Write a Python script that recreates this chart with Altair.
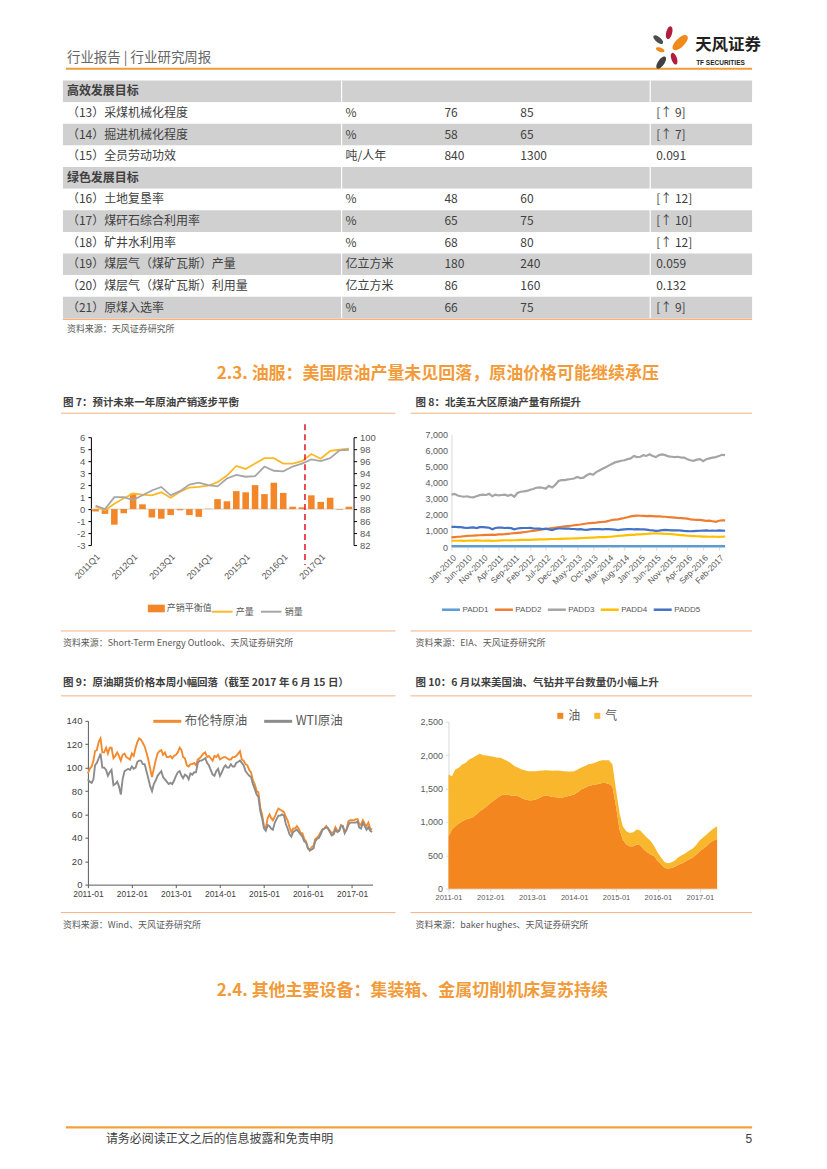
import altair as alt
import pandas as pd

FONT = "Noto Sans CJK SC"
NUM_FONT = "Liberation Sans"
ORANGE_LINE = "#F4B183"
GRAY_TXT = "#595959"
DARK_TXT = "#404040"
HEAD_ORANGE = "#F29B3A"

# ---------------- texts ----------------
HEADER_TEXT = "行业报告 | 行业研究周报"
LOGO_CN = "天风证券"
LOGO_EN = "TF SECURITIES"
TABLE_SOURCE = "资料来源：天风证券研究所"
HEADING_23 = "2.3. 油服：美国原油产量未见回落，原油价格可能继续承压"
TITLE_7 = "图 7：预计未来一年原油产销逐步平衡"
TITLE_8 = "图 8：北美五大区原油产量有所提升"
SOURCE_7 = "资料来源：Short-Term Energy Outlook、天风证券研究所"
SOURCE_8 = "资料来源：EIA、天风证券研究所"
TITLE_9 = "图 9：原油期货价格本周小幅回落（截至 2017 年 6 月 15 日）"
TITLE_10 = "图 10：6 月以来美国油、气钻井平台数量仍小幅上升"
SOURCE_9 = "资料来源：Wind、天风证券研究所"
SOURCE_10 = "资料来源：baker hughes、天风证券研究所"
HEADING_24 = "2.4. 其他主要设备：集装箱、金属切削机床复苏持续"
FOOTER_TEXT = "请务必阅读正文之后的信息披露和免责申明"
PAGE_NO = "5"

# ---------------- table ----------------
table_item = ["高效发展目标", "（13）采煤机械化程度", "（14）掘进机械化程度", "（15）全员劳动功效",
              "绿色发展目标", "（16）土地复垦率", "（17）煤矸石综合利用率", "（18）矿井水利用率",
              "（19）煤层气（煤矿瓦斯）产量", "（20）煤层气（煤矿瓦斯）利用量", "（21）原煤入选率"]
table_unit = ["", "%", "%", "吨/人年", "", "%", "%", "%", "亿立方米", "亿立方米", "%"]
table_2015 = ["", "76", "58", "840", "", "48", "65", "68", "180", "86", "66"]
table_2020 = ["", "85", "65", "1300", "", "60", "75", "80", "240", "160", "75"]
table_change = ["", "[↑ 9]", "[↑ 7]", "0.091", "", "[↑ 12]", "[↑ 10]", "[↑ 12]", "0.059", "0.132", "[↑ 9]"]
table_shaded = [True, False, True, False, True, False, True, False, True, False, True]
table_header = [True, False, False, False, True, False, False, False, False, False, False]

# ---------------- figure 7 ----------------
quarters = ["2011Q1", "2011Q2", "2011Q3", "2011Q4", "2012Q1", "2012Q2", "2012Q3", "2012Q4",
            "2013Q1", "2013Q2", "2013Q3", "2013Q4", "2014Q1", "2014Q2", "2014Q3", "2014Q4",
            "2015Q1", "2015Q2", "2015Q3", "2015Q4", "2016Q1", "2016Q2", "2016Q3", "2016Q4",
            "2017Q1", "2017Q2", "2017Q3", "2017Q4"]
q1_labels = ["2011Q1", "2012Q1", "2013Q1", "2014Q1", "2015Q1", "2016Q1", "2017Q1"]
balance = [-0.2, -0.4, -1.3, -0.35, 1.3, 0.4, -0.7, -0.8, -0.5, -0.1, -0.5, -0.65, 0.03, 0.83,
           0.65, 1.5, 1.4, 2.0, 1.25, 2.2, 1.35, 0.2, 0.15, 1.15, 0.6, 0.95, -0.05, 0.2]
production = [88.4, 87.8, 88.9, 89.8, 90.6, 90.4, 90.3, 90.8, 89.9, 90.9, 91.6, 91.7, 91.9, 92.5,
              93.6, 95.2, 94.7, 95.6, 96.5, 96.5, 95.6, 95.6, 96.0, 97.2, 96.4, 97.7, 97.9, 98.1]
consumption = [88.6, 88.0, 90.0, 90.0, 89.5, 90.3, 91.1, 91.7, 90.3, 91.0, 92.1, 92.4, 92.0, 91.8,
               93.1, 93.7, 93.4, 93.5, 95.1, 94.4, 94.3, 95.1, 95.6, 96.3, 96.0, 96.5, 97.8, 97.9]
forecast_start = "2016Q3"

# ---------------- figure 8 (monthly, Jan-2010 .. Apr-2017) ----------------
padd1 = [55, 55, 56, 55, 54, 55, 56, 55, 54, 55, 56, 55,
         55, 54, 55, 56, 55, 55, 54, 55, 56, 55, 55, 56,
         57, 58, 57, 58, 59, 58, 57, 58, 59, 60, 60, 61,
         60, 61, 62, 61, 62, 63, 62, 61, 62, 63, 62, 63,
         62, 63, 64, 63, 62, 63, 64, 63, 62, 63, 62, 61,
         62, 61, 60, 61, 60, 59, 60, 59, 58, 59, 58, 57,
         56, 55, 56, 55, 54, 55, 54, 53, 54, 53, 54, 53,
         52, 53, 52, 53]
padd2 = [600, 620, 640, 650, 670, 690, 700, 710, 720, 730, 740, 750,
         760, 770, 760, 780, 790, 800, 820, 840, 860, 880, 900, 920,
         950, 980, 1000, 1030, 1060, 1090, 1120, 1150, 1180, 1200, 1230, 1260,
         1280, 1300, 1320, 1350, 1380, 1400, 1430, 1460, 1480, 1500, 1520, 1550,
         1560, 1580, 1620, 1680, 1700, 1720, 1760, 1800, 1850, 1900, 1930, 1950,
         1940, 1930, 1920, 1930, 1920, 1900, 1910, 1890, 1880, 1850, 1840, 1830,
         1800, 1790, 1780, 1760, 1720, 1700, 1690, 1680, 1650, 1620, 1640, 1600,
         1560, 1630, 1650, 1660]
padd3 = [3250, 3300, 3200, 3150, 3120, 3150, 3100, 3080, 3150, 3220, 3250, 3230,
         3300, 3150, 3250, 3200, 3230, 3250, 3180, 3250, 3120, 3350, 3430, 3450,
         3480, 3550, 3600, 3680, 3700, 3680, 3620, 3800, 3700, 3850, 4100, 4150,
         4150, 4200, 4220, 4250, 4350, 4280, 4300, 4450, 4550, 4480, 4650, 4750,
         4850, 4950, 5050, 5150, 5250, 5300, 5350, 5380, 5450, 5500, 5650, 5580,
         5600, 5700, 5650, 5750, 5650, 5580, 5700, 5750, 5700, 5620, 5600, 5580,
         5600, 5550, 5550, 5450, 5380, 5350, 5420, 5450, 5320, 5450, 5500, 5550,
         5580, 5650, 5720, 5700]
padd4 = [380, 390, 390, 400, 380, 390, 400, 400, 410, 400, 390, 400,
         400, 380, 390, 400, 410, 420, 420, 410, 420, 430, 440, 440,
         450, 450, 460, 460, 470, 480, 480, 490, 500, 500, 510, 510,
         520, 520, 530, 540, 540, 550, 560, 570, 580, 590, 600, 610,
         610, 620, 640, 650, 670, 690, 700, 720, 740, 750, 760, 780,
         790, 800, 810, 830, 840, 850, 840, 830, 820, 810, 800, 780,
         760, 740, 720, 700, 690, 680, 670, 660, 650, 650, 640, 650,
         640, 630, 640, 650]
padd5 = [1250, 1260, 1240, 1230, 1200, 1180, 1200, 1220, 1180, 1230, 1240, 1220,
         1200, 1100, 1180, 1200, 1200, 1180, 1190, 1170, 1100, 1150, 1170, 1180,
         1180, 1190, 1160, 1150, 1140, 1120, 1140, 1100, 1050, 1120, 1150, 1150,
         1140, 1150, 1130, 1120, 1100, 1110, 1080, 1070, 1100, 1110, 1120, 1110,
         1100, 1120, 1110, 1100, 1080, 1050, 1080, 1100, 1110, 1120, 1100, 1110,
         1100, 1090, 1080, 1050, 1030, 1000, 1020, 1050, 1060, 1050, 1030, 1040,
         1040, 1020, 1000, 990, 980, 990, 1000, 1010, 1020, 1030, 1010, 1020,
         1010, 1030, 1020, 1010]
padd_names = ["PADD1", "PADD2", "PADD3", "PADD4", "PADD5"]
padd_ticks = [(2010, 1), (2010, 6), (2010, 11), (2011, 4), (2011, 9), (2012, 2), (2012, 7), (2012, 12),
              (2013, 5), (2013, 10), (2014, 3), (2014, 8), (2015, 1), (2015, 6), (2015, 11), (2016, 4),
              (2016, 9), (2017, 2)]

# ---------------- figure 9 (semi-monthly, 2011-01 .. 2017-06) ----------------
brent = [95, 99, 101, 106, 114, 115, 122, 125, 113, 113, 117, 112, 117, 117, 108, 110, 113, 110, 106, 111, 112, 109, 108, 107,
         112, 110, 117, 122, 125, 124, 121, 118, 113, 107, 99, 92, 99, 106, 112, 114, 115, 111, 113, 109, 109, 110, 108, 110,
         111, 113, 117, 115, 109, 108, 102, 101, 103, 103, 104, 102, 107, 108, 110, 112, 113, 109, 110, 108, 106, 110, 109, 111,
         107, 108, 109, 109, 108, 107, 107, 109, 109, 110, 112, 114, 107, 106, 103, 102, 98, 96, 89, 86, 80, 79, 66, 60,
         50, 48, 57, 60, 57, 55, 58, 62, 65, 64, 63, 62, 58, 55, 49, 45, 48, 48, 50, 48, 44, 44, 39, 37,
         31, 30, 32, 33, 39, 40, 42, 45, 47, 48, 50, 48, 46, 44, 45, 49, 46, 46, 51, 50, 45, 47, 54, 55,
         55, 55, 56, 56, 52, 51, 55, 52, 50, 53, 48, 47]
wti = [90, 88, 87, 90, 102, 104, 108, 112, 100, 100, 98, 93, 96, 98, 85, 86, 88, 84, 77, 90, 97, 98, 99, 98,
       101, 99, 100, 105, 106, 106, 103, 103, 97, 91, 84, 80, 86, 89, 93, 95, 97, 92, 90, 88, 86, 87, 86, 89,
       93, 96, 97, 93, 91, 94, 93, 90, 95, 94, 96, 96, 104, 106, 106, 107, 108, 104, 102, 98, 94, 93, 97, 99,
       93, 96, 100, 102, 100, 100, 103, 101, 101, 104, 105, 106, 104, 102, 97, 95, 93, 92, 86, 82, 77, 75, 63, 57,
       48, 46, 51, 50, 48, 47, 53, 56, 59, 59, 60, 59, 52, 48, 43, 41, 45, 46, 47, 45, 43, 41, 37, 36,
       31, 29, 30, 31, 37, 39, 40, 43, 47, 48, 49, 48, 45, 42, 43, 47, 45, 46, 50, 50, 44, 47, 51, 53,
       53, 53, 53, 54, 49, 48, 53, 50, 47, 49, 46, 45]
oil_names = ["布伦特原油", "WTI原油"]
year_ticks = [2011, 2012, 2013, 2014, 2015, 2016, 2017]

# ---------------- figure 10 (monthly, 2011-01 .. 2017-06) ----------------
rigs_oil = [785, 885, 935, 975, 1010, 1035, 1050, 1070, 1110, 1160, 1195, 1235,
            1285, 1320, 1360, 1395, 1410, 1410, 1395, 1395, 1385, 1360, 1335, 1325,
            1325, 1335, 1360, 1385, 1395, 1385, 1375, 1370, 1360, 1370, 1385, 1395,
            1410, 1445, 1485, 1510, 1535, 1550, 1560, 1570, 1585, 1585, 1570, 1535,
            1235, 885, 735, 660, 635, 635, 660, 650, 585, 545, 510, 485,
            410, 360, 310, 300, 310, 330, 360, 380, 410, 440, 465, 510,
            560, 600, 640, 690, 720, 745]
rigs_gas = [925, 800, 850, 835, 850, 850, 885, 890, 885, 860, 805, 760,
            700, 655, 600, 565, 525, 500, 480, 440, 425, 425, 435, 435,
            435, 425, 405, 385, 380, 385, 390, 400, 405, 390, 370, 360,
            350, 340, 325, 325, 325, 320, 325, 340, 340, 340, 355, 325,
            250, 250, 200, 200, 200, 210, 225, 220, 225, 215, 200, 150,
            125, 100, 85, 80, 85, 95, 115, 125, 125, 130, 135, 145,
            165, 170, 170, 170, 180, 190]
rig_names = ["油", "气"]

# ================= helpers =================
dummy = pd.DataFrame({"d": [0]})
PLAIN_NUM = "'' + datum.value"
COMMA_NUM = "format(datum.value, ',')"


def spacer(w, h):
    return alt.Chart(dummy).mark_point(opacity=0, size=1).encode(
        x=alt.value(0), y=alt.value(0)).properties(width=w, height=h)


def txt(s, x, y, size, color=DARK_TXT, weight="normal", align="left", font=FONT):
    return alt.Chart(dummy).mark_text(text=s, align=align, baseline="middle", fontSize=size,
                                      color=color, fontWeight=weight, font=font).encode(
        x=alt.value(x), y=alt.value(y))


def hline(x1, x2, y, color=ORANGE_LINE, width=1.0):
    return alt.Chart(dummy).mark_rule(color=color, strokeWidth=width).encode(
        x=alt.value(x1), x2=alt.value(x2), y=alt.value(y))


PETAL = "M0,-1C0.6,-1 0.6,1 0,1C-0.6,1 -0.6,-1 0,-1Z"


def petal(x, y, size, angle, color):
    return alt.Chart(dummy).mark_point(shape=PETAL, filled=True, opacity=1, size=size,
                                       angle=angle % 360, color=color, strokeWidth=0).encode(
        x=alt.value(x), y=alt.value(y))


def indep(c):
    return c.resolve_scale(x="independent", y="independent", color="independent",
                           stroke="independent")


W = 811

# ================= header =================
header = alt.layer(
    txt(HEADER_TEXT, 58, 49, 13.5, color="#666666"),
    hline(57, 744, 60, color="#F29B3A", width=2),
    petal(661, 24, 170, 15, "#B01E3C"),
    petal(672, 34, 380, 45, "#F08A1C"),
    petal(650, 31, 140, -50, "#4D4D4D"),
    petal(652, 41, 80, -70, "#F08A1C"),
    petal(653, 54, 200, 35, "#404040"),
    petal(666, 50, 150, -20, "#B01E3C"),
    txt(LOGO_CN, 687, 36, 16.5, color="#231F20", weight="bold"),
    txt(LOGO_EN, 688, 54, 6.5, color="#231F20", weight="bold", font=NUM_FONT),
).properties(width=W, height=72)

# ================= table =================
tbl = pd.DataFrame({"row": list(range(len(table_item))), "c1": table_item, "c2": table_unit,
                    "c3": table_2015, "c4": table_2020, "c5": table_change,
                    "shade": table_shaded, "head": table_header})
TW, TH = 690, 238
ytab = alt.Y("row:O", axis=None, scale=alt.Scale(domain=list(range(len(table_item))),
                                                 paddingInner=0, paddingOuter=0))
tbase = alt.Chart(tbl)
bands = tbase.mark_rect().encode(
    y=ytab, x=alt.value(0), x2=alt.value(TW),
    color=alt.condition("datum.shade", alt.value("#D0D0D0"), alt.value("#FFFFFF")))
seps = [alt.Chart(dummy).mark_rule(color="#FFFFFF", strokeWidth=1.2).encode(
    x=alt.value(xx), y=alt.value(0), y2=alt.value(TH)) for xx in (279, 588)]
head_txt = tbase.transform_filter("datum.head").mark_text(
    align="left", baseline="middle", fontSize=12, fontWeight="bold", color=DARK_TXT, font=FONT).encode(
    y=ytab, x=alt.value(4), text="c1:N")
body_layers = []
for col, xx in (("c1", 4), ("c2", 283), ("c3", 382), ("c4", 458), ("c5", 594)):
    body_layers.append(tbase.transform_filter("!datum.head").mark_text(
        align="left", baseline="middle", fontSize=12, color=DARK_TXT, font=FONT).encode(
        y=ytab, x=alt.value(xx), text=f"{col}:N"))
table_chart = alt.layer(bands, *seps, head_txt, *body_layers).properties(width=TW, height=TH)

# ================= text band under table =================
band3 = alt.layer(
    hline(54, 744, 1, color=ORANGE_LINE, width=1.5),
    txt(TABLE_SOURCE, 58, 11, 9, color=GRAY_TXT),
    txt(HEADING_23, 208, 56, 17, color=HEAD_ORANGE, weight="bold"),
    txt(TITLE_7, 54, 85, 10.5, color=DARK_TXT, weight="bold"),
    txt(TITLE_8, 407, 85, 10.5, color=DARK_TXT, weight="bold"),
    hline(52, 387, 95),
    hline(402, 744, 95),
).properties(width=W, height=107)

# ================= figure 7 =================
df7 = pd.DataFrame({"q": quarters, "balance": balance, "产量": production, "销量": consumption})
F7W, F7H = 263, 108
xq = alt.X("q:N", title=None, sort=quarters,
           scale=alt.Scale(domain=quarters, paddingInner=0.3, paddingOuter=0.15),
           axis=alt.Axis(values=q1_labels, labelAngle=315, labelFontSize=9, labelColor=GRAY_TXT,
                         labelFont=NUM_FONT, domain=False, ticks=False, labelPadding=7,
                         labelOverlap=False))
base7 = alt.Chart(df7)
zero7 = alt.Chart(pd.DataFrame({"z": [0]})).mark_rule(color="#C8C8C8", strokeWidth=0.8).encode(
    x=alt.value(0), x2=alt.value(F7W),
    y=alt.Y("z:Q", scale=alt.Scale(domain=[-3, 6], nice=False), axis=None))
RECT_SYM = "M-1,-0.45H1V0.45H-1Z"
bars7 = base7.transform_calculate(series="'产销平衡值'").mark_bar(color="#F4862A").encode(
    x=xq,
    y=alt.Y("balance:Q", title=None, scale=alt.Scale(domain=[-3, 6], nice=False, zero=False),
            axis=alt.Axis(values=list(range(-3, 7)), labelExpr=PLAIN_NUM, domainColor="#000000",
                          tickColor="#000000", tickSize=3, labelFontSize=9.5, labelColor=GRAY_TXT,
                          labelFont=NUM_FONT, grid=False, labelPadding=3)),
    color=alt.Color("series:N", scale=alt.Scale(domain=["产销平衡值"], range=["#F4862A"]),
                    legend=alt.Legend(orient="none", legendX=57, legendY=163, title=None,
                                      symbolType=RECT_SYM, symbolSize=289, labelFontSize=9,
                                      labelFont=FONT, labelColor=GRAY_TXT, symbolStrokeWidth=0,
                                      labelOffset=2)))
lines7 = base7.transform_fold(["产量", "销量"], as_=["k", "v"]).mark_line(strokeWidth=1.8).encode(
    x=xq,
    y=alt.Y("v:Q", title=None, scale=alt.Scale(domain=[82, 100], nice=False, zero=False),
            axis=alt.Axis(orient="right", values=list(range(82, 101, 2)), labelExpr=PLAIN_NUM,
                          domainColor="#000000", tickColor="#000000", tickSize=3,
                          labelFontSize=9.5, labelColor=GRAY_TXT, labelFont=NUM_FONT, grid=False,
                          labelPadding=3)),
    stroke=alt.Stroke("k:N", scale=alt.Scale(domain=["产量", "销量"], range=["#FBB829", "#A6A6A6"]),
                      legend=alt.Legend(orient="none", legendX=120, legendY=163, title=None,
                                        direction="horizontal", symbolType="stroke", symbolSize=420,
                                        symbolStrokeWidth=2, labelFontSize=9, labelFont=FONT,
                                        labelColor=GRAY_TXT, columnPadding=2, labelOffset=2)),
    order=alt.Order("q:N"))
red7 = base7.transform_filter(f"datum.q == '{forecast_start}'").mark_rule(
    color="#E3232C", strokeDash=[6, 4], strokeWidth=1.6, xOffset=3).encode(
    x=xq, y=alt.value(-13), y2=alt.value(128))
fig7 = alt.layer(zero7, bars7, lines7, red7).resolve_scale(y="independent").properties(
    width=F7W, height=F7H)

# ================= figure 8 =================
months8 = pd.date_range("2010-01-01", periods=len(padd3), freq="MS")
df8 = pd.concat([pd.DataFrame({"date": months8, "series": n, "v": vals})
                 for n, vals in zip(padd_names, [padd1, padd2, padd3, padd4, padd5])])
F8W, F8H = 274, 113
fig8 = alt.Chart(df8).mark_line(strokeWidth=2.2).encode(
    x=alt.X("date:T", title=None,
            scale=alt.Scale(domain=[alt.DateTime(year=2010, month=1, date=1),
                                    alt.DateTime(year=2017, month=4, date=1)]),
            axis=alt.Axis(values=[alt.DateTime(year=y, month=m, date=1) for y, m in padd_ticks],
                          format="%b-%Y", labelAngle=315, labelFontSize=8.5, labelColor=GRAY_TXT,
                          labelFont=NUM_FONT, domainColor="#D9D9D9", tickColor="#D9D9D9",
                          tickSize=3, grid=False, labelPadding=3, labelOverlap=False,
                          labelFlush=False)),
    y=alt.Y("v:Q", title=None, scale=alt.Scale(domain=[0, 7000], nice=False),
            axis=alt.Axis(values=list(range(0, 7001, 1000)), labelExpr=COMMA_NUM,
                          domainColor="#D9D9D9", ticks=False, labelFontSize=9, labelColor=GRAY_TXT,
                          labelFont=NUM_FONT, grid=False, labelPadding=4)),
    color=alt.Color("series:N",
                    scale=alt.Scale(domain=padd_names,
                                    range=["#5B9BD5", "#ED7D31", "#A5A5A5", "#FFC000", "#4472C4"]),
                    legend=alt.Legend(orient="none", legendX=-11, legendY=165, title=None,
                                      direction="horizontal", symbolType="stroke", symbolSize=324,
                                      symbolStrokeWidth=2.5, labelFontSize=8, labelFont=NUM_FONT,
                                      labelColor=GRAY_TXT, columnPadding=0, labelOffset=1)),
).properties(width=F8W, height=F8H)

# ================= text band between chart rows =================
band5 = alt.layer(
    hline(52, 387, 1),
    hline(402, 744, 1),
    txt(SOURCE_7, 54, 13, 9, color=GRAY_TXT),
    txt(SOURCE_8, 407, 13, 9, color=GRAY_TXT),
    txt(TITLE_9, 54, 53, 10.5, color=DARK_TXT, weight="bold"),
    txt(TITLE_10, 407, 53, 10.5, color=DARK_TXT, weight="bold"),
    hline(52, 387, 66),
    hline(402, 744, 66),
).properties(width=W, height=75)

# ================= figure 9 =================
half_dates = []
for y in range(2011, 2018):
    for m in range(1, 13):
        if y == 2017 and m > 6:
            break
        half_dates.append(pd.Timestamp(year=y, month=m, day=1))
        half_dates.append(pd.Timestamp(year=y, month=m, day=16))
df9 = pd.concat([pd.DataFrame({"date": half_dates, "series": oil_names[0], "v": brent}),
                 pd.DataFrame({"date": half_dates, "series": oil_names[1], "v": wti})])
F9W, F9H = 285, 164
fig9 = alt.Chart(df9).mark_line(strokeWidth=1.9).encode(
    x=alt.X("date:T", title=None,
            scale=alt.Scale(domain=[alt.DateTime(year=2011, month=1, date=1),
                                    alt.DateTime(year=2017, month=6, date=20)]),
            axis=alt.Axis(values=[alt.DateTime(year=y, month=1, date=1) for y in year_ticks],
                          format="%Y-%m", labelFontSize=8.5, labelColor=DARK_TXT, labelFont=NUM_FONT,
                          domainColor="#595959", tickColor="#595959", tickSize=3, grid=False,
                          labelPadding=2, labelOverlap=False, labelFlush=False)),
    y=alt.Y("v:Q", title=None, scale=alt.Scale(domain=[0, 140], nice=False),
            axis=alt.Axis(values=list(range(0, 141, 20)), labelExpr=PLAIN_NUM,
                          domainColor="#595959", tickColor="#595959", tickSize=3,
                          labelFontSize=9.5, labelColor=DARK_TXT, labelFont=NUM_FONT, grid=False,
                          labelPadding=3)),
    color=alt.Color("series:N", scale=alt.Scale(domain=oil_names, range=["#F28B30", "#8C8C8C"]),
                    legend=alt.Legend(orient="none", legendX=64, legendY=-15, title=None,
                                      direction="horizontal", symbolType="stroke", symbolSize=784,
                                      symbolStrokeWidth=3, labelFontSize=12.5, labelFont=FONT,
                                      labelColor=GRAY_TXT, columnPadding=10, labelOffset=2)),
).properties(width=F9W, height=F9H)

# ================= figure 10 =================
months10 = pd.date_range("2011-01-01", periods=len(rigs_oil), freq="MS")
df10 = pd.concat([pd.DataFrame({"date": months10, "type": rig_names[0], "v": rigs_oil, "ord": 0}),
                  pd.DataFrame({"date": months10, "type": rig_names[1], "v": rigs_gas, "ord": 1})])
F10W, F10H = 269, 167
fig10 = alt.Chart(df10).mark_area(opacity=1).encode(
    x=alt.X("date:T", title=None,
            scale=alt.Scale(domain=[alt.DateTime(year=2011, month=1, date=1),
                                    alt.DateTime(year=2017, month=6, date=1)]),
            axis=alt.Axis(values=[alt.DateTime(year=y, month=1, date=1) for y in year_ticks],
                          format="%Y-%m", labelFontSize=7.5, labelColor=GRAY_TXT, labelFont=NUM_FONT,
                          domainColor="#D9D9D9", tickColor="#D9D9D9", tickSize=3, grid=False,
                          labelPadding=2, labelOverlap=False, labelFlush=False)),
    y=alt.Y("v:Q", title=None, stack="zero", scale=alt.Scale(domain=[0, 2500], nice=False),
            axis=alt.Axis(values=list(range(0, 2501, 500)), labelExpr=COMMA_NUM,
                          domainColor="#D9D9D9", tickColor="#D9D9D9", tickSize=3, labelFontSize=9,
                          labelColor=GRAY_TXT, labelFont=NUM_FONT, grid=False, labelPadding=3)),
    color=alt.Color("type:N", scale=alt.Scale(domain=rig_names, range=["#F4861F", "#F9B72D"]),
                    legend=alt.Legend(orient="none", legendX=106, legendY=-12, title=None,
                                      direction="horizontal", symbolType="square", symbolSize=36,
                                      labelFontSize=12, labelFont=FONT, labelColor=GRAY_TXT,
                                      columnPadding=10, labelOffset=2)),
    order=alt.Order("ord:Q"),
).properties(width=F10W, height=F10H)

# ================= bottom band =================
band_bottom = alt.layer(
    hline(52, 387, 1),
    hline(402, 744, 1),
    txt(SOURCE_9, 54, 13, 9, color=GRAY_TXT),
    txt(SOURCE_10, 407, 13, 9, color=GRAY_TXT),
    txt(HEADING_24, 208, 80, 17, color=HEAD_ORANGE, weight="bold"),
    hline(57, 744, 216, color="#F2A03D", width=2.2),
    txt(FOOTER_TEXT, 97, 228, 12, color=DARK_TXT),
    txt(PAGE_NO, 744, 228, 12, color=DARK_TXT, align="right", font=NUM_FONT),
).properties(width=W, height=249)

# ================= page layout =================
# With bounds="flush" a nested concat takes no room of its own, so each nested block is
# followed by a spacer that reserves its size.
row_table = indep(alt.hconcat(spacer(54, 1), table_chart, spacing=0, bounds="flush"))

col7 = indep(alt.vconcat(spacer(F7W, 12), fig7, spacing=0, bounds="flush"))
col8 = indep(alt.vconcat(spacer(F8W, 9), fig8, spacing=0, bounds="flush"))
row_c1 = indep(alt.hconcat(spacer(82, 1), col7, spacer(F7W, 1), spacer(98, 1), col8,
                           spacing=0, bounds="flush"))

col9 = indep(alt.vconcat(spacer(F9W, 16), fig9, spacing=0, bounds="flush"))
col10 = indep(alt.vconcat(spacer(F10W, 17), fig10, spacing=0, bounds="flush"))
row_c2 = indep(alt.hconcat(spacer(79, 1), col9, spacer(F9W, 1), spacer(76, 1), col10,
                           spacing=0, bounds="flush"))

page = indep(alt.vconcat(
    header,
    row_table, spacer(W, TH),
    band3,
    row_c1, spacer(W, 205),
    band5,
    row_c2, spacer(W, 207),
    band_bottom,
    spacing=0, bounds="flush"))

chart = page.properties(padding=0).configure(font=FONT).configure_view(stroke=None)

chart.save("out.html", embed_options={"renderer": "svg", "actions": False})
